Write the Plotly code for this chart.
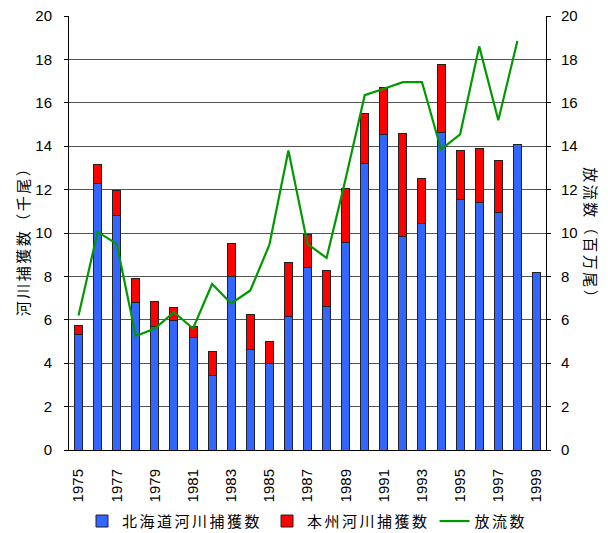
import plotly.graph_objects as go

# 河川捕獲数（千尾）と放流数（百万尾）, 1975–1999
years = list(range(1975, 2000))
hokkaido_catch = [5.3, 12.3, 10.8, 6.8, 5.7, 5.95, 5.2, 3.45, 8.0, 4.65, 4.0, 6.15, 8.4,
                  6.6, 9.55, 13.2, 14.55, 9.85, 10.45, 14.65, 11.55, 11.4, 10.95, 14.1, 8.2]
honshu_catch = [0.45, 0.85, 1.15, 1.1, 1.15, 0.6, 0.5, 1.1, 1.5, 1.6, 1.0, 2.5, 1.55,
                1.65, 2.5, 2.3, 2.15, 4.75, 2.05, 3.1, 2.25, 2.5, 2.4, 0, 0]
released = [6.2, 10.05, 9.5, 5.25, 5.6, 6.35, 5.6, 7.65, 6.75, 7.35, 9.45, 13.8, 9.5,
            8.85, 12.5, 16.35, 16.65, 16.95, 16.95, 13.85, 14.55, 18.6, 15.2, 18.85, None]
tick_years = list(range(1975, 2000, 2))
y_ticks = list(range(0, 21, 2))

NUM_FONT = "Liberation Sans"
CJK_FONT = "Noto Sans CJK JP"


def spaced(text, px=2.5):
    """Wrap Japanese labels in a tspan with extra letter spacing."""
    return f'<span style="letter-spacing:{px}px">{text}</span>'


fig = go.Figure()
fig.add_trace(go.Bar(
    x=years, y=hokkaido_catch, name=spaced("北海道河川捕獲数"),
    marker=dict(color="#3366FF", line=dict(color="#222222", width=1)),
    width=0.42,
))
fig.add_trace(go.Bar(
    x=years, y=honshu_catch, name=spaced("本州河川捕獲数"),
    marker=dict(color="#FF0000", line=dict(color="#222222", width=1)),
    width=0.42,
))
fig.add_trace(go.Scatter(
    x=years, y=released, name=spaced("放流数"), yaxis="y2",
    mode="lines", line=dict(color="#009900", width=2.2),
))

fig.update_layout(
    width=608, height=533,
    margin=dict(l=69, r=62, t=16, b=83, autoexpand=False),
    barmode="stack",
    plot_bgcolor="white", paper_bgcolor="white",
    font=dict(family=NUM_FONT, size=15, color="black"),
    xaxis=dict(
        range=[1974.5, 1999.5], tickmode="array", tickvals=tick_years,
        ticktext=[str(y) for y in tick_years], tickangle=-90,
        showline=True, linecolor="black", linewidth=1, ticks="",
        showgrid=False, zeroline=False, ticklabelstandoff=12,
        tickfont=dict(family=NUM_FONT, size=15), automargin=False,
    ),
    yaxis=dict(
        range=[0, 20], tickmode="array", tickvals=y_ticks,
        showline=True, linecolor="black", linewidth=1,
        ticks="outside", ticklen=4, tickcolor="black",
        showgrid=True, gridcolor="#555555", gridwidth=1, zeroline=False,
        ticklabelstandoff=9, tickfont=dict(family=NUM_FONT, size=15),
        automargin=False,
    ),
    yaxis2=dict(
        range=[0, 20], tickmode="array", tickvals=y_ticks,
        overlaying="y", side="right",
        showline=True, linecolor="black", linewidth=1,
        ticks="outside", ticklen=4, tickcolor="black",
        showgrid=False, zeroline=False,
        ticklabelstandoff=7, tickfont=dict(family=NUM_FONT, size=15),
        automargin=False,
    ),
    legend=dict(
        orientation="h", x=0.5, xanchor="center",
        yref="container", y=0.022, yanchor="middle",
        font=dict(family=CJK_FONT, size=15), traceorder="normal",
        itemwidth=30, tracegroupgap=0,
    ),
    annotations=[
        dict(text=spaced("河川捕獲数（千尾）"), xref="paper", yref="paper",
             x=-0.0985, y=0.49, xanchor="center", yanchor="middle",
             textangle=-90, showarrow=False,
             font=dict(family=CJK_FONT, size=15)),
        dict(text=spaced("放流数（百万尾）"), xref="paper", yref="paper",
             x=1.0964, y=0.49, xanchor="center", yanchor="middle",
             textangle=90, showarrow=False,
             font=dict(family=CJK_FONT, size=15)),
    ],
)

fig.write_html("out.html")
